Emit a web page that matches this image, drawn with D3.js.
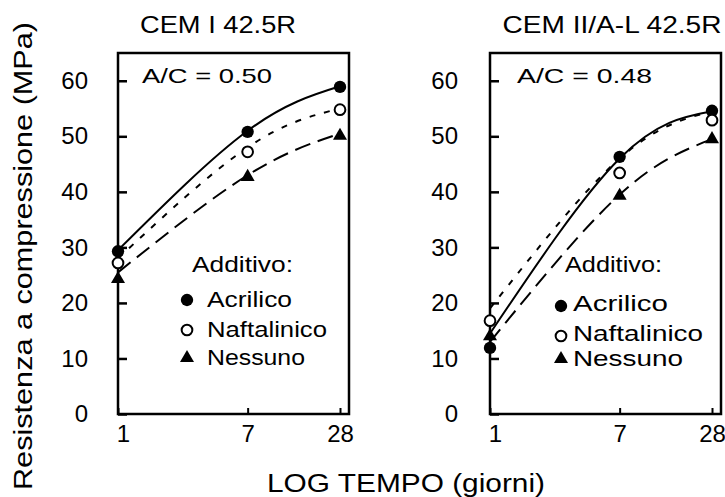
<!DOCTYPE html>
<html><head><meta charset="utf-8">
<script src="https://cdn.jsdelivr.net/npm/d3@7"></script>
<style>body{margin:0;background:#fff}svg{display:block}</style>
</head><body><svg id="c" width="725" height="497"></svg>
<script>
// ---------- data ----------
const days = [1, 7, 28];
const yTicks = [0, 10, 20, 30, 40, 50, 60];
const panelTitles = ["CEM I 42.5R", "CEM II/A-L 42.5R"];
const ratioLabels = ["A/C = 0.50", "A/C = 0.48"];
const seriesNames = ["Acrilico", "Naftalinico", "Nessuno"];
const legendTitle = "Additivo:";
const yLabel = "Resistenza a compressione (MPa)";
const xLabel = "LOG TEMPO (giorni)";
// measured points (MPa) at 1, 7, 28 days
const cem1Acrilico = [29.3, 50.8, 58.9];
const cem1Naftalinico = [27.2, 47.2, 54.8];
const cem1Nessuno = [24.3, 42.7, 50.1];
const cem2Acrilico = [11.9, 46.3, 54.6];
const cem2Naftalinico = [16.8, 43.4, 52.9];
const cem2Nessuno = [14.0, 39.3, 49.5];
// fitted curves (MPa) at 1, 7, 28 days
const cem1FitAcrilico = [29.5, 51, 59];
const cem1FitNaftalinico = [28, 48, 55];
const cem1FitNessuno = [25.5, 43, 50.5];
const cem2FitAcrilico = [14.5, 46, 54.5];
const cem2FitNaftalinico = [19, 46, 54.5];
const cem2FitNessuno = [13, 39.5, 49.5];

const panels = [
  {title: panelTitles[0], ratio: ratioLabels[0],
   pts: [cem1Acrilico, cem1Naftalinico, cem1Nessuno],
   fit: [cem1FitAcrilico, cem1FitNaftalinico, cem1FitNessuno]},
  {title: panelTitles[1], ratio: ratioLabels[1],
   pts: [cem2Acrilico, cem2Naftalinico, cem2Nessuno],
   fit: [cem2FitAcrilico, cem2FitNaftalinico, cem2FitNessuno]}
];

// ---------- layout ----------
const FONT = "'Liberation Sans', Arial, Helvetica, sans-serif";
const svg = d3.select("#c");
const layouts = [
  {x0: 118, title: {x: 218, len: 156}, ratio: {x: 142, len: 130}, pad: 30,
   leg: {tx: 192, tlen: 101, ix: 207, mx: 187, base: [307, 337, 365], my: [300, 330, 358], lens: [85, 120, 98]}},
  {x0: 490, title: {x: 612, len: 219}, ratio: {x: 517, len: 135}, pad: 32,
   leg: {tx: 565, tlen: 97, ix: 573, mx: 561, base: [311, 341, 366], my: [306, 336, 359], lens: [95, 130, 110]}}
];
const yTop = 53, yBot = 414, plotW = 231, dataW = 222;
const y = d3.scaleLinear().domain([0, 65]).range([yBot, yTop]);

const dash = [null, "6,9", "16,8"];
const symbols = [
  {type: d3.symbolCircle, size: 120, fill: "#000", stroke: "none"},
  {type: d3.symbolCircle, size: 90, fill: "#fff", stroke: "#000"},
  {type: d3.symbolTriangle, size: 85, fill: "#000", stroke: "none"}
];

function txt(g, s, x, yy, size, len, anchor) {
  const t = g.append("text").attr("x", x).attr("y", yy)
    .attr("font-family", FONT).attr("font-size", size).attr("fill", "#000")
    .attr("text-anchor", anchor || "start").text(s);
  if (len) t.attr("textLength", len).attr("lengthAdjust", "spacingAndGlyphs");
  return t;
}

panels.forEach((p, i) => {
  const L = layouts[i];
  const x = d3.scaleLog().domain([1, 28]).range([L.x0, L.x0 + dataW]);
  const g = svg.append("g");

  // y axis
  const ya = g.append("g").attr("transform", `translate(${L.x0},0)`)
    .call(d3.axisLeft(y).tickValues(yTicks).tickSize(-9).tickSizeOuter(0).tickPadding(L.pad));
  ya.select(".domain").remove();
  ya.selectAll("line").attr("stroke", "#000").attr("stroke-width", 2.5);
  ya.selectAll("text").attr("font-family", FONT).attr("font-size", 24).attr("fill", "#000");

  // x axis
  const xa = g.append("g").attr("transform", `translate(0,${yBot})`)
    .call(d3.axisBottom(x).tickValues(days).tickFormat(d3.format("d")).tickSize(-6).tickSizeOuter(0).tickPadding(11));
  xa.select(".domain").remove();
  xa.selectAll("line").attr("stroke", "#000").attr("stroke-width", 2);
  xa.selectAll("text").attr("font-family", FONT).attr("font-size", 24).attr("fill", "#000")
    .attr("dx", d => d === 1 ? 5 : 0);

  // frame
  g.append("rect").attr("x", L.x0).attr("y", yTop).attr("width", plotW).attr("height", yBot - yTop)
    .attr("fill", "none").attr("stroke", "#000").attr("stroke-width", 2.5);

  // curves
  const line = d3.line().x((d, k) => x(days[k])).y(d => y(d)).curve(d3.curveNatural);
  p.fit.forEach((s, k) => {
    g.append("path").attr("d", line(s)).attr("fill", "none").attr("stroke", "#000")
      .attr("stroke-width", 2).attr("stroke-dasharray", dash[k]);
  });

  // points
  p.pts.forEach((s, k) => {
    const sym = symbols[k];
    g.selectAll(null).data(s).enter().append("path")
      .attr("transform", (d, j) => `translate(${x(days[j])},${y(d)})`)
      .attr("d", d3.symbol().type(sym.type).size(sym.size))
      .attr("fill", sym.fill).attr("stroke", sym.stroke).attr("stroke-width", 2);
  });

  // titles
  txt(g, p.title, L.title.x, 33, 24, L.title.len, "middle");
  txt(g, p.ratio, L.ratio.x, 83, 21, L.ratio.len);

  // legend
  txt(g, legendTitle, L.leg.tx, 272, 22, L.leg.tlen);
  seriesNames.forEach((n, k) => {
    const sym = symbols[k];
    g.append("path").attr("transform", `translate(${L.leg.mx},${L.leg.my[k]})`)
      .attr("d", d3.symbol().type(sym.type).size(sym.size))
      .attr("fill", sym.fill).attr("stroke", sym.stroke).attr("stroke-width", 2);
    txt(g, n, L.leg.ix, L.leg.base[k], 22, L.leg.lens[k]);
  });
});

// axis titles
txt(svg, xLabel, 406, 492, 25, 278, "middle");
svg.append("text").attr("transform", "translate(32,256) rotate(-90)")
  .attr("text-anchor", "middle").attr("font-family", FONT).attr("font-size", 25).attr("fill", "#000")
  .attr("textLength", 468).attr("lengthAdjust", "spacingAndGlyphs").text(yLabel);
</script></body></html>
